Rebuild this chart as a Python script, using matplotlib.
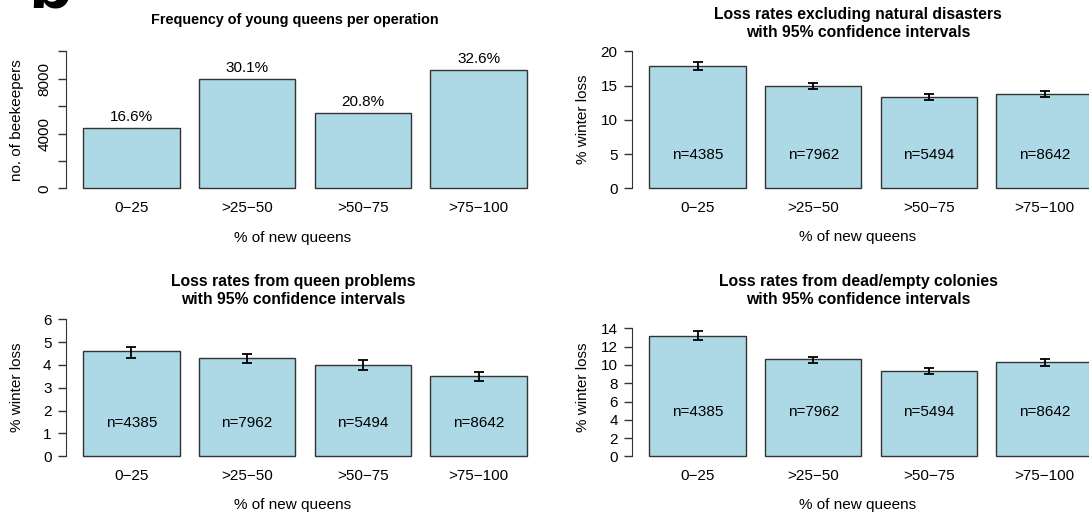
import matplotlib
matplotlib.use("Agg")
import matplotlib.pyplot as plt
import numpy as np

plt.rcParams["font.family"] = ["Liberation Sans", "DejaVu Sans"]

# Data
categories = ["0\u221225", ">25\u221250", ">50\u221275", ">75\u2212100"]
beekeepers = [4385, 7962, 5494, 8642]
share_labels = ["16.6%", "30.1%", "20.8%", "32.6%"]
n_labels = ["n=4385", "n=7962", "n=5494", "n=8642"]

loss_excl = [17.8, 14.9, 13.4, 13.8]
loss_excl_lo = [17.2, 14.5, 12.9, 13.4]
loss_excl_hi = [18.4, 15.3, 13.8, 14.2]

loss_queen = [4.6, 4.3, 4.0, 3.5]
loss_queen_lo = [4.3, 4.1, 3.8, 3.3]
loss_queen_hi = [4.8, 4.5, 4.2, 3.7]

loss_dead = [13.2, 10.6, 9.3, 10.3]
loss_dead_lo = [12.7, 10.2, 9.0, 9.9]
loss_dead_hi = [13.7, 10.9, 9.7, 10.7]

W, H = 1089, 516
fig = plt.figure(figsize=(W / 100, H / 100), dpi=100)

BAR_COLOR = "#add8e6"
EDGE = "#333333"
x = 0.7 + 1.2 * np.arange(len(categories))


def add_panel(left, top, width=479, height=148):
    return fig.add_axes([left / W, 1 - (top + height) / H, width / W, height / H])


def ftext(xp, yp, s, **kw):
    fig.text(xp / W, 1 - yp / H, s, **kw)


def style_axis(ax, ymax, yticks):
    ax.set_xlim(0.016, 4.984)
    ax.set_ylim(-0.04 * ymax, 1.04 * ymax)
    for s in ["top", "right", "bottom"]:
        ax.spines[s].set_visible(False)
    ax.spines["left"].set_bounds(0, yticks[-1])
    ax.spines["left"].set_color(EDGE)
    ax.set_yticks(yticks)
    ax.tick_params(axis="y", length=6, width=1, color=EDGE, pad=4, labelsize=11)
    ax.set_xticks(x, categories)
    ax.tick_params(axis="x", length=0, pad=5.5, labelsize=11)
    ax.patch.set_alpha(0)


def loss_panel(ax, vals, lo, hi, ymax, yticks, n_y):
    vals = np.array(vals)
    ax.bar(x, vals, width=1, color=BAR_COLOR, edgecolor=EDGE, linewidth=1)
    ax.errorbar(x, vals, yerr=[vals - np.array(lo), np.array(hi) - vals],
                fmt="none", ecolor="black", elinewidth=1.3, capsize=3.5, capthick=1.3)
    for xi, lab in zip(x, n_labels):
        ax.text(xi, n_y, lab, ha="center", va="center", fontsize=11)
    style_axis(ax, ymax, yticks)


# Panel 1: frequency of young queens
ax1 = add_panel(65.5, 45.8)
ax1.bar(x, beekeepers, width=1, color=BAR_COLOR, edgecolor=EDGE, linewidth=1)
for xi, v, lab in zip(x, beekeepers, share_labels):
    ax1.annotate(lab, (xi, v), xytext=(0, 8), textcoords="offset points",
                 ha="center", va="center", fontsize=11)
style_axis(ax1, 10000, [0, 2000, 4000, 6000, 8000, 10000])
ax1.set_yticklabels(["0", "", "4000", "", "8000", ""])
for lab in ax1.get_yticklabels():
    lab.set_rotation(90)
    lab.set_va("center")

# Panel 2: excluding natural disasters
ax2 = add_panel(631.6, 45.8)
loss_panel(ax2, loss_excl, loss_excl_lo, loss_excl_hi, 20, [0, 5, 10, 15, 20], 4.9)

# Panel 3: queen problems
ax3 = add_panel(65.5, 313.8)
loss_panel(ax3, loss_queen, loss_queen_lo, loss_queen_hi, 6, [0, 1, 2, 3, 4, 5, 6], 1.45)

# Panel 4: dead/empty colonies
ax4 = add_panel(631.6, 313.8)
loss_panel(ax4, loss_dead, loss_dead_lo, loss_dead_hi, 15, [0, 2, 4, 6, 8, 10, 12, 14], 4.85)

# Titles
title_kw = dict(ha="center", va="center", fontweight="bold", linespacing=1.3)
ftext(295, 20, "Frequency of young queens per operation", fontsize=10.4, **title_kw)
ftext(858, 23.3, "Loss rates excluding natural disasters\nwith 95% confidence intervals",
      fontsize=11.3, **title_kw)
ftext(293, 290.7, "Loss rates from queen problems\nwith 95% confidence intervals",
      fontsize=11.3, **title_kw)
ftext(858, 290.7, "Loss rates from dead/empty colonies\nwith 95% confidence intervals",
      fontsize=11.3, **title_kw)

# Axis labels
for xp, yp in [(293, 238), (858, 237.5), (293, 505), (858, 505.5)]:
    ftext(xp, yp, "% of new queens", ha="center", va="center", fontsize=11)
ftext(17, 119.7, "no. of beekeepers", ha="center", va="center", rotation=90, fontsize=11)
ftext(583, 119.7, "% winter loss", ha="center", va="center", rotation=90, fontsize=11)
ftext(17, 387.7, "% winter loss", ha="center", va="center", rotation=90, fontsize=11)
ftext(583, 387.7, "% winter loss", ha="center", va="center", rotation=90, fontsize=11)

# Panel letter, cropped at the top edge as in the source
ftext(28, 7.5, "b", ha="left", va="baseline", fontsize=52, fontweight="bold")

fig.savefig("out.png", dpi=100)
